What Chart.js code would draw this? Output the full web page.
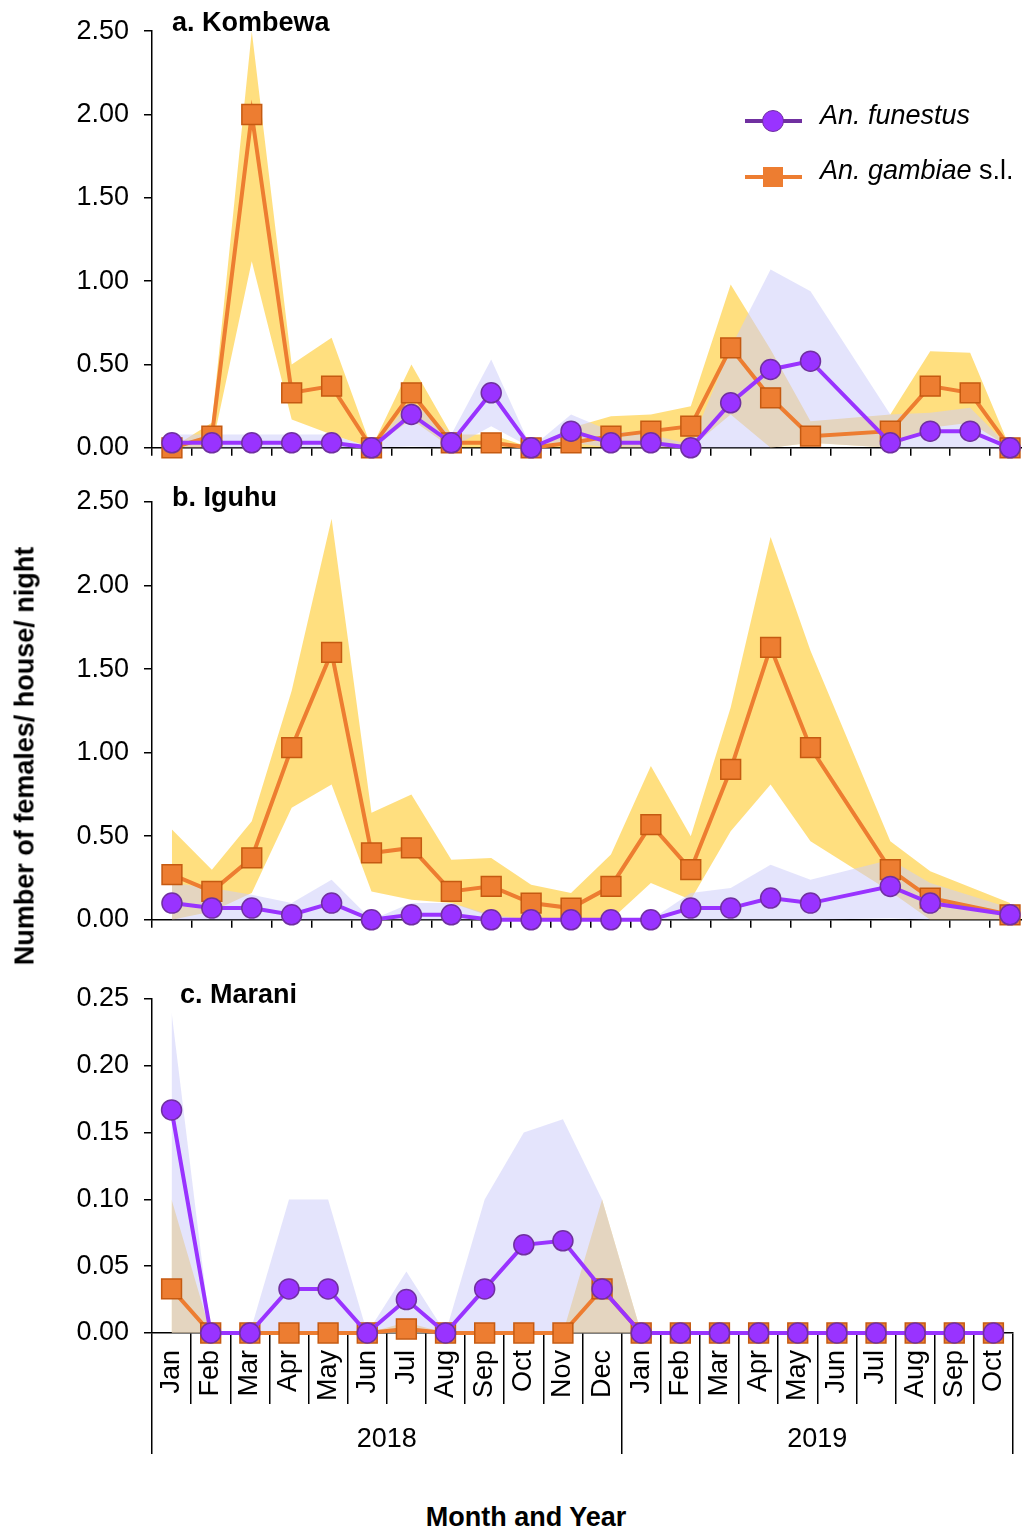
<!DOCTYPE html>
<html>
<head>
<meta charset="utf-8">
<script src="https://cdn.jsdelivr.net/npm/chart.js@4.4.1/dist/chart.umd.min.js"></script>
<style>
body{margin:0;width:1022px;height:1530px;overflow:hidden;background:#fff;position:relative;font-family:"Liberation Sans",Arial,sans-serif;color:#000}
canvas{position:absolute;left:0}
.ttl{position:absolute;font-weight:bold;font-size:27px;line-height:27px;white-space:nowrap}
.lgline{position:absolute;left:745px;width:57px;height:4px}
.lgtxt{position:absolute;left:820px;font-size:27px;line-height:27px;white-space:nowrap}
</style>
</head>
<body>
<canvas id="cA" width="1040" height="479" style="top:0"></canvas>
<canvas id="cB" width="1040" height="481" style="top:470px"></canvas>
<canvas id="cC" width="1022" height="510" style="top:960px"></canvas>

<div class="ttl" style="left:172px;top:9px">a. Kombewa</div>
<div class="ttl" style="left:172px;top:484px">b. Iguhu</div>
<div class="ttl" style="left:180px;top:981px">c. Marani</div>
<div class="ttl" style="left:526px;top:1504px;transform:translateX(-50%)">Month and Year</div>
<div class="ttl" style="left:25px;top:756px;transform:translate(-50%,-50%) rotate(-90deg)">Number of females/ house/ night</div>

<div class="lgline" style="top:119px;background:#7030A0"></div>
<div style="position:absolute;left:762px;top:110px;width:20px;height:20px;border-radius:50%;background:#9933FF;border:1.5px solid #7030A0"></div>
<div class="lgtxt" style="top:102px;font-style:italic">An. funestus</div>
<div class="lgline" style="top:175px;background:#ED7D31"></div>
<div style="position:absolute;left:763px;top:167px;width:20px;height:20px;background:#ED7D31"></div>
<div class="lgtxt" style="top:157px"><i>An. gambiae</i> s.l.</div>

<script>
const months=["Jan","Feb","Mar","Apr","May","Jun","Jul","Aug","Sep","Oct","Nov","Dec",
"Jan","Feb","Mar","Apr","May","Jun","Jul","Aug","Sep","Oct"];
const years=["2018","2019"];
const yearMonths=[12,10];

// a. Kombewa
const kombewaFun=[0.03,0.03,0.03,0.03,0.03,0,0.2,0.03,0.33,0,0.1,0.03,0.03,0,0.27,0.47,0.52,null,0.03,0.1,0.1,0];
const kombewaFunLo=[0,0,0,0,0,0,0.01,0,0.13,0,0.03,0,0,0,0,0,0.03,null,0,0,0,0];
const kombewaFunHi=[0.08,0.08,0.08,0.08,0.08,0,0.28,0.08,0.53,0,0.2,0.1,0.08,0.02,0.6,1.07,0.94,null,0.2,0.21,0.24,0];
const kombewaGam=[0,0.07,2.0,0.33,0.37,0,0.33,0.03,0.03,0,0.03,0.07,0.1,0.13,0.6,0.3,0.07,null,0.1,0.37,0.33,0];
const kombewaGamLo=[0,0,1.12,0.17,0.08,0,0.17,0,0,0,0,0,0,0,0.2,0,0.03,null,0,0.12,0.15,0];
const kombewaGamHi=[0,0.15,2.5,0.5,0.66,0,0.5,0.08,0.08,0,0.12,0.19,0.2,0.25,0.98,0.59,0.16,null,0.2,0.58,0.57,0];

// b. Iguhu
const iguhuFun=[0.1,0.07,0.07,0.03,0.1,0,0.03,0.03,0,0,0,0,0,0.07,0.07,0.13,0.1,null,0.2,0.1,null,0.03];
const iguhuFunLo=[0,0,0,0,0,0,0,0,0,0,0,0,0,0,0,0,0,null,0.01,0,null,0];
const iguhuFunHi=[0.22,0.19,0.15,0.1,0.24,0,0.1,0.1,0.03,0,0,0,0,0.16,0.19,0.33,0.24,null,0.36,0.22,null,0.07];
const iguhuGam=[0.27,0.17,0.37,1.03,1.6,0.4,0.43,0.17,0.2,0.1,0.07,0.2,0.57,0.3,0.9,1.63,1.03,null,0.3,0.13,null,0.03];
const iguhuGamLo=[0,0.05,0.16,0.67,0.81,0.17,0.12,0.1,0.02,0,0,0,0.22,0.12,0.53,0.81,0.47,null,0.17,0,null,0];
const iguhuGamHi=[0.54,0.3,0.59,1.37,2.4,0.64,0.75,0.36,0.37,0.21,0.16,0.39,0.92,0.5,1.27,2.29,1.61,null,0.47,0.29,null,0.1];

// c. Marani
const maraniFun=[0.167,0,0,0.033,0.033,0,0.025,0,0.033,0.066,0.069,0.033,0,0,0,0,0,0,0,0,0,0];
const maraniFunLo=[0,0,0,0,0,0,0,0,0,0,0,0,0,0,0,0,0,0,0,0,0,0];
const maraniFunHi=[0.24,0,0,0.1,0.1,0,0.046,0,0.1,0.15,0.16,0.1,0,0,0,0,0,0,0,0,0,0];
const maraniGam=[0.033,0,0,0,0,0,0.003,0,0,0,0,0.033,0,0,0,0,0,0,0,0,0,0];
const maraniGamLo=[0,0,0,0,0,0,0,0,0,0,0,0,0,0,0,0,0,0,0,0,0,0];
const maraniGamHi=[0.1,0,0,0,0,0,0.008,0,0,0,0,0.1,0,0,0,0,0,0,0,0,0,0];

Chart.defaults.font.family='"Liberation Sans", Arial, sans-serif';
Chart.defaults.font.size=27;
Chart.defaults.color='#000';
Chart.defaults.animation=false;

const purple="#9933FF", purpleEdge="#7030A0";
const orange="#ED7D31", orangeEdge="#C55A11";
const lavFill="rgba(204,204,250,0.53)", yelFill="rgba(255,192,0,0.5)";

function line(data,color,edge,style,r,order){
  return {data,borderColor:color,backgroundColor:color,borderWidth:4,pointStyle:style,pointRadius:r,
    pointBackgroundColor:color,pointBorderColor:edge,pointBorderWidth:1.5,order,spanGaps:true,clip:false,fill:false};
}
function band(data,color,order,fill){
  return {data,borderColor:"rgba(0,0,0,0)",borderWidth:0,pointRadius:0,backgroundColor:color,fill,order,spanGaps:true};
}

const axisGrid={drawOnChartArea:false,color:"#000",tickLength:8,lineWidth:1.5};
const axisBorder={color:"#000",width:1.5};

function panel(id,fun,funLo,funHi,gam,gamLo,gamHi,yMax,step,padTop,padRight,xH,bottom){
  const scales={
    x:{type:"category",offset:true,grid:{...axisGrid,offset:true},border:axisBorder,
      ticks:{display:false},afterFit:s=>{s.height=xH}},
    y:{min:0,max:yMax,grid:axisGrid,border:axisBorder,
      ticks:{stepSize:step,padding:15,callback:v=>v.toFixed(2)},afterFit:s=>{s.width=152}}
  };
  if(bottom){
    scales.x.grid.tickLength=71;
    scales.x.ticks={display:true,autoSkip:false,minRotation:90,maxRotation:90,padding:-54};
    const yt=[-0.5];
    let acc=-0.5;
    yearMonths.forEach(n=>{yt.push(acc+n/2);acc+=n;yt.push(acc)});
    scales.year={type:"linear",position:"bottom",min:-0.5,max:months.length-0.5,offset:false,
      afterBuildTicks:s=>{s.ticks=yt.map(v=>({value:v}))},
      ticks:{autoSkip:false,maxRotation:0,padding:-31,callback:(v,i)=>i%2?years[(i-1)/2]:""},
      grid:{drawOnChartArea:false,color:"#000",lineWidth:1.5,tickLength:50,
        tickColor:c=>c.index%2?"rgba(0,0,0,0)":"#000"},
      border:{display:false},afterFit:s=>{s.height=50}};
  }
  new Chart(document.getElementById(id),{
    type:"line",
    data:{labels:months,datasets:[
      line(fun,purple,purpleEdge,"circle",10,0),
      line(gam,orange,orangeEdge,"rect",14,1),
      band(funHi,lavFill,2,"+1"),
      band(funLo,lavFill,2,false),
      band(gamHi,yelFill,3,"+1"),
      band(gamLo,yelFill,3,false)
    ]},
    options:{responsive:false,animation:false,
      layout:{autoPadding:false,padding:{top:padTop,right:padRight,left:0,bottom:bottom?16:0}},
      plugins:{legend:{display:false},tooltip:{enabled:false}},
      elements:{line:{tension:0}},
      scales}
  });
}

panel("cA",kombewaFun,kombewaFunLo,kombewaFunHi,kombewaGam,kombewaGamLo,kombewaGamHi,2.5,0.5,31,10,23,false);
panel("cB",iguhuFun,iguhuFunLo,iguhuFunHi,iguhuGam,iguhuGamLo,iguhuGamHi,2.5,0.5,32,10,21,false);
panel("cC",maraniFun,maraniFunLo,maraniFunHi,maraniGam,maraniGamLo,maraniGamHi,0.25,0.05,39,9,71,true);
</script>
</body>
</html>
